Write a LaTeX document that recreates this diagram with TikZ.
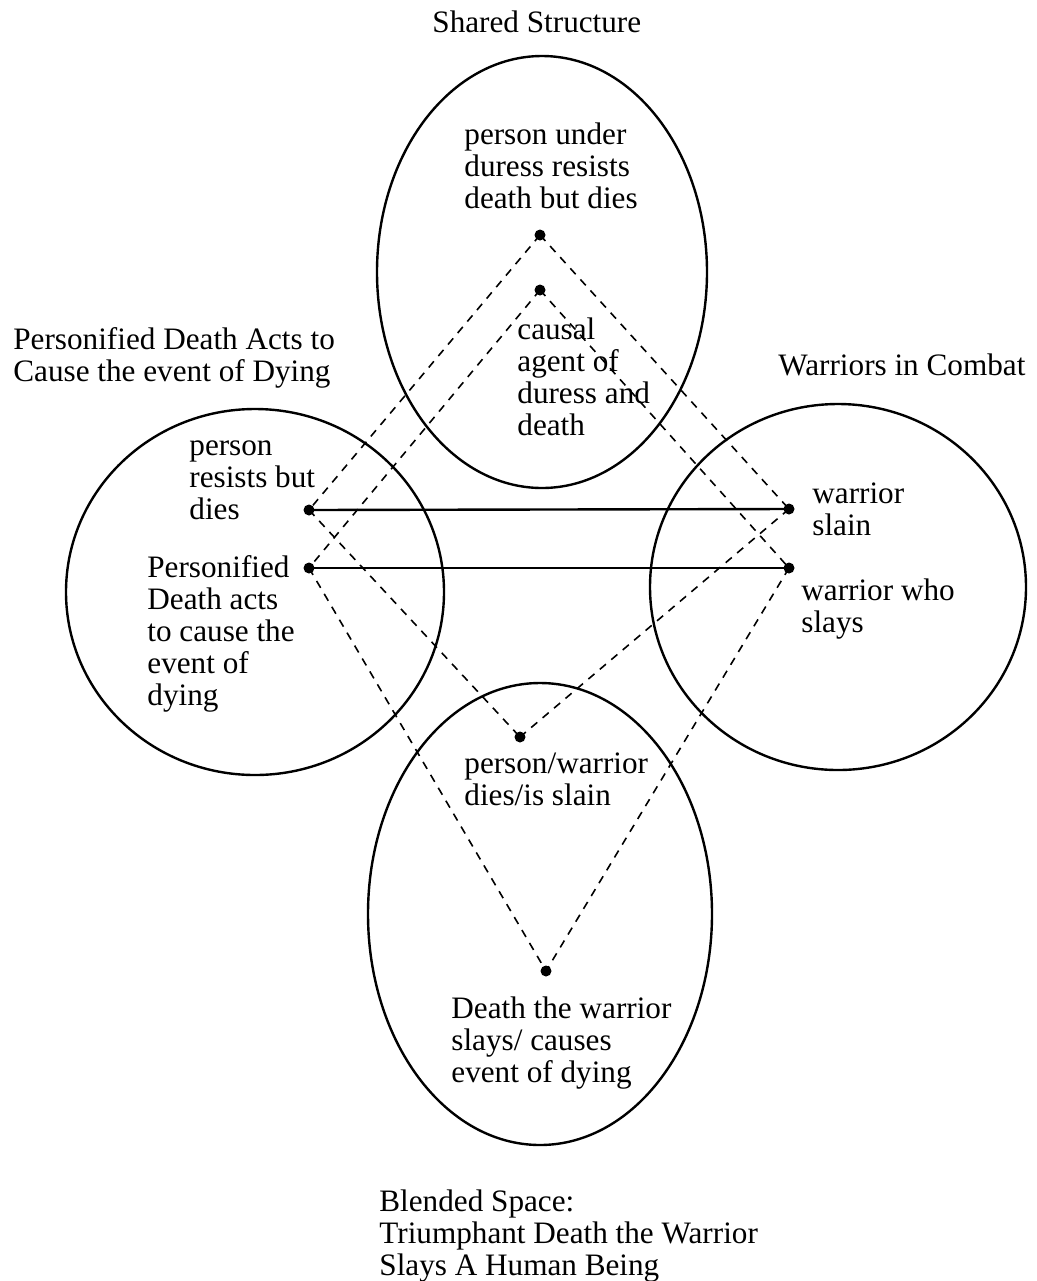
\documentclass[tikz,border=0pt]{standalone}
\usepackage{fontspec}
\setmainfont{Liberation Serif}
\usetikzlibrary{shapes.geometric}
\begin{document}
\begin{tikzpicture}[x=0.5pt,y=-0.5pt,
  space/.style={ellipse,draw,line width=1.2pt,inner sep=0pt},
  dot/.style={circle,fill,inner sep=0pt,minimum size=5.5pt},
  link/.style={line width=1.2pt},
  map/.style={dash pattern=on 4pt off 3.5pt,line width=0.8pt},
  lbl/.style={anchor=base west,inner sep=0pt,align=left,font=\fontsize{15.6}{16}\selectfont}]
\useasboundingbox (0,0) rectangle (1037,1281);

% the four mental spaces
\node[space,minimum width=165pt,minimum height=216pt] (shared) at (542,272) {};
\node[space,minimum width=189pt,minimum height=183pt] (death) at (255,592) {};
\node[space,minimum width=188pt,minimum height=183pt] (combat) at (838,587) {};
\node[space,minimum width=172pt,minimum height=231pt] (blend) at (540,914) {};

% elements
\node[dot] (s1) at (540,235) {};
\node[dot] (s2) at (540,290) {};
\node[dot] (d1) at (309,510) {};
\node[dot] (d2) at (309,568) {};
\node[dot] (c1) at (789,509) {};
\node[dot] (c2) at (789,568) {};
\node[dot] (b1) at (520,737) {};
\node[dot] (b2) at (546,971) {};

% cross-space mappings
\draw[link] (d1.center) -- (c1.center);
\draw[link] (d2.center) -- (c2.center);

% projections from the generic space and into the blend
\draw[map] (s1.center) -- (d1.center);
\draw[map] (s2.center) -- (d2.center);
\draw[map] (s1.center) -- (c1.center);
\draw[map] (s2.center) -- (c2.center);
\draw[map] (d1.center) -- (b1.center);
\draw[map] (c1.center) -- (b1.center);
\draw[map] (d2.center) -- (b2.center);
\draw[map] (c2.center) -- (b2.center);

% titles (positioned by the baseline of their last line)
\node[lbl] (tshared) at (432,32) {Shared Structure};
\node[lbl] (tdeath) at (13,381) {Personified Death Acts to\\Cause the event of Dying};
\node[lbl] (tcombat) at (778,375) {Warriors in Combat};
\node[lbl] (tblend) at (379,1275) {Blended Space:\\Triumphant Death the Warrior\\Slays A Human Being};

% element labels
\node[lbl] (ls1) at (464,208) {person under\\duress resists\\death but dies};
\node[lbl] (ls2) at (517,435) {causal\\agent of\\duress and\\death};
\node[lbl] (ld1) at (189,519) {person\\resists but\\dies};
\node[lbl] (ld2) at (147,705) {Personified\\Death acts\\to cause the\\event of\\dying};
\node[lbl] (lc1) at (812,535) {warrior\\slain};
\node[lbl] (lc2) at (801,632) {warrior who\\slays};
\node[lbl] (lb1) at (464,805) {person/warrior\\dies/is slain};
\node[lbl] (lb2) at (451,1082) {Death the warrior\\slays/ causes\\event of dying};
\end{tikzpicture}
\end{document}
